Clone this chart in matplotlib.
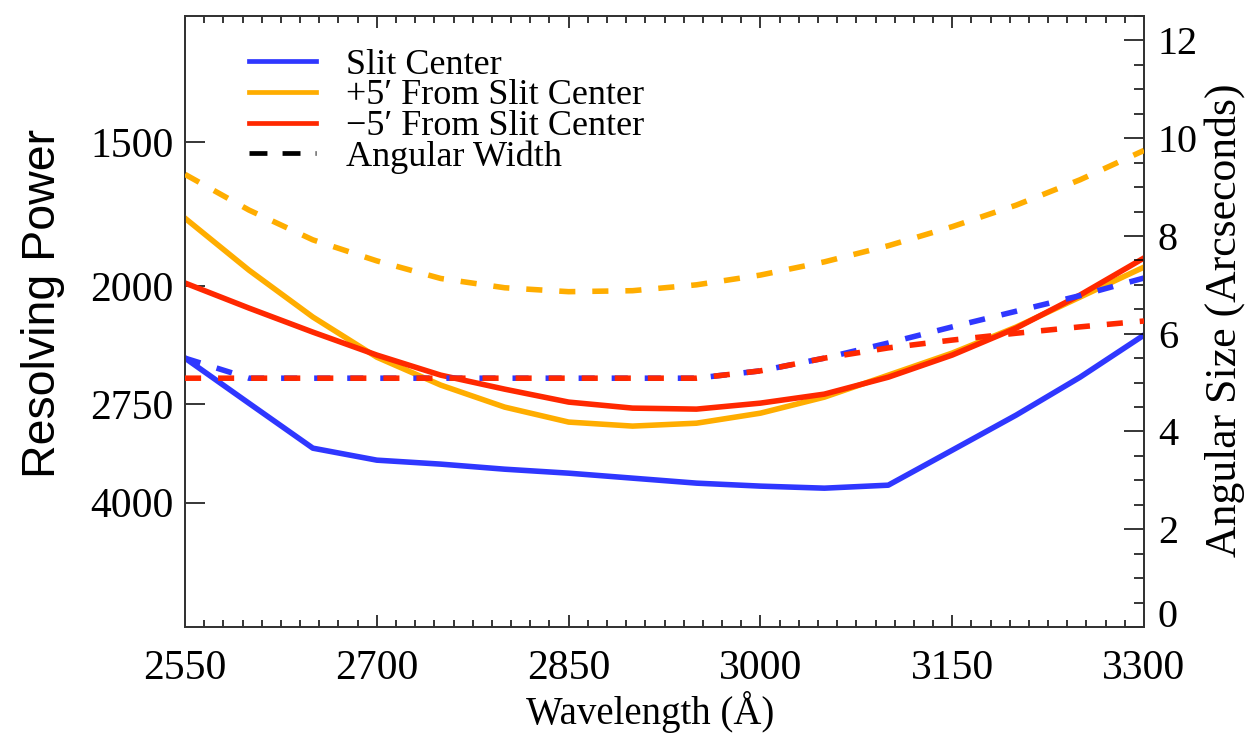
import numpy as np
import matplotlib
matplotlib.use("Agg")
import matplotlib.pyplot as plt
from matplotlib.lines import Line2D
from matplotlib.ticker import MultipleLocator, NullLocator

plt.rcParams["font.family"] = "serif"
plt.rcParams["font.serif"] = ["Liberation Serif", "DejaVu Serif"]

# --- data -------------------------------------------------------------
wavelength = [2550, 2600, 2650, 2700, 2750, 2800, 2850, 2900,
              2950, 3000, 3050, 3100, 3150, 3200, 3250, 3300]

# resolving power (left axis)
R_center = [2398, 2741, 3196, 3344, 3396, 3465, 3521, 3594,
            3670, 3717, 3750, 3702, 3220, 2848, 2532, 2254]
R_plus = [1728, 1928, 2153, 2392, 2592, 2775, 2915, 2955,
          2926, 2830, 2689, 2517, 2365, 2208, 2051, 1915]
R_minus = [1985, 2106, 2237, 2378, 2517, 2624, 2731, 2784,
           2793, 2740, 2664, 2532, 2378, 2214, 2041, 1877]

# angular width in arcsec (right axis)
width_center = [5.50, 5.09, 5.09, 5.09, 5.09, 5.09, 5.09, 5.09,
                5.09, 5.24, 5.50, 5.81, 6.14, 6.46, 6.78, 7.14]
width_plus = [9.26, 8.53, 7.92, 7.49, 7.13, 6.94, 6.86, 6.88,
              7.00, 7.20, 7.47, 7.80, 8.19, 8.63, 9.15, 9.75]
width_minus = [5.09, 5.09, 5.09, 5.09, 5.09, 5.09, 5.09, 5.09,
               5.09, 5.24, 5.50, 5.71, 5.87, 6.01, 6.14, 6.26]

R_ticks = [1500, 2000, 2750, 4000]
x_ticks = [2550, 2700, 2850, 3000, 3150, 3300]
arcsec_ticks = [0, 2, 4, 6, 8, 10, 12]

BLUE = "#2f37ff"
ORANGE = "#ffad00"
RED = "#ff2800"


# resolving power mapped onto the angular size axis
def R_to_arcsec(R):
    R = np.asarray(R, dtype=float)
    with np.errstate(divide="ignore", invalid="ignore"):
        return 17700.0 / R - 1.88


def arcsec_to_R(a):
    a = np.asarray(a, dtype=float)
    with np.errstate(divide="ignore", invalid="ignore"):
        return 17700.0 / (a + 1.88)


fig = plt.figure(figsize=(12.45, 7.34), dpi=100)
ax = fig.add_axes([0.1486, 0.1458, 0.7703, 0.8324])
ax.set_yscale("function", functions=(R_to_arcsec, arcsec_to_R))
ax2 = ax.twinx()

lw = 4.0
dash = (0, (2.9, 3.05))

ax.plot(wavelength, R_center, color=BLUE, lw=lw, zorder=2)
ax.plot(wavelength, R_plus, color=ORANGE, lw=lw, zorder=3)
ax.plot(wavelength, R_minus, color=RED, lw=lw, zorder=4)

ax2.plot(wavelength, width_center, color=BLUE, lw=lw, ls=dash, zorder=2)
ax2.plot(wavelength, width_plus, color=ORANGE, lw=lw, ls=dash, zorder=3)
ax2.plot(wavelength, width_minus, color=RED, lw=lw, ls=dash, zorder=4)

# x axis
ax.set_xlim(2550, 3300)
ax.set_xticks(x_ticks)
ax.xaxis.set_minor_locator(MultipleLocator(15))
ax.tick_params(axis="x", which="both", direction="in", top=True,
               bottom=True, labelsize=30, pad=16, width=1.1)
ax.tick_params(axis="x", which="major", length=8.6)
ax.tick_params(axis="x", which="minor", length=5)
ax.set_xlabel("Wavelength (Å)", fontsize=28)
ax.xaxis.set_label_coords(0.485, -0.104)
ax.xaxis.label.set_verticalalignment("top")

# left axis: resolving power (smaller angular size = higher R)
ax.set_ylim(arcsec_to_R(12.5), arcsec_to_R(0))
ax.set_yticks(R_ticks, labels=[str(r) for r in R_ticks])
ax.yaxis.set_minor_locator(NullLocator())
ax.tick_params(axis="y", which="major", direction="in", length=14.4,
               width=1.1, labelsize=30, pad=8, right=False)
ax.set_ylabel("Resolving Power", fontsize=33.5, family="Liberation Sans")
ax.yaxis.set_label_coords(-0.125, 0.529)

# right axis: angular size
ax2.set_ylim(0, 12.5)
ax2.set_yticks(arcsec_ticks)
ax2.yaxis.set_minor_locator(MultipleLocator(0.5))
ax2.tick_params(axis="y", which="both", direction="in", width=1.1,
                labelsize=29, pad=10)
ax2.tick_params(axis="y", which="major", length=14.4)
ax2.tick_params(axis="y", which="minor", length=7.2)
ax2.set_ylabel("Angular Size (Arcseconds)", fontsize=31.5)
ax2.yaxis.set_label_coords(1.063, 0.502)

for a in (ax, ax2):
    for s in a.spines.values():
        s.set_linewidth(1.3)
        s.set_color("#333333")

handles = [
    Line2D([], [], color=BLUE, lw=3.4),
    Line2D([], [], color=ORANGE, lw=3.4),
    Line2D([], [], color=RED, lw=3.4),
    Line2D([], [], color="black", lw=3.4, ls=(0, (3.8, 3.2))),
]
labels = ["Slit Center", "+5′ From Slit Center",
          "−5′ From Slit Center", "Angular Width"]
ax2.legend(handles, labels, loc="upper left", bbox_to_anchor=(0.0667, 0.947),
           frameon=False, prop={"family": "serif", "size": 26},
           handlelength=1.85, handletextpad=0.83, labelspacing=-0.07,
           borderpad=0, borderaxespad=0)

fig.canvas.draw()
# the zero label sits just above its tick
ax2.get_yticklabels()[0].set_verticalalignment("baseline")

fig.savefig("out.png", dpi=100)
